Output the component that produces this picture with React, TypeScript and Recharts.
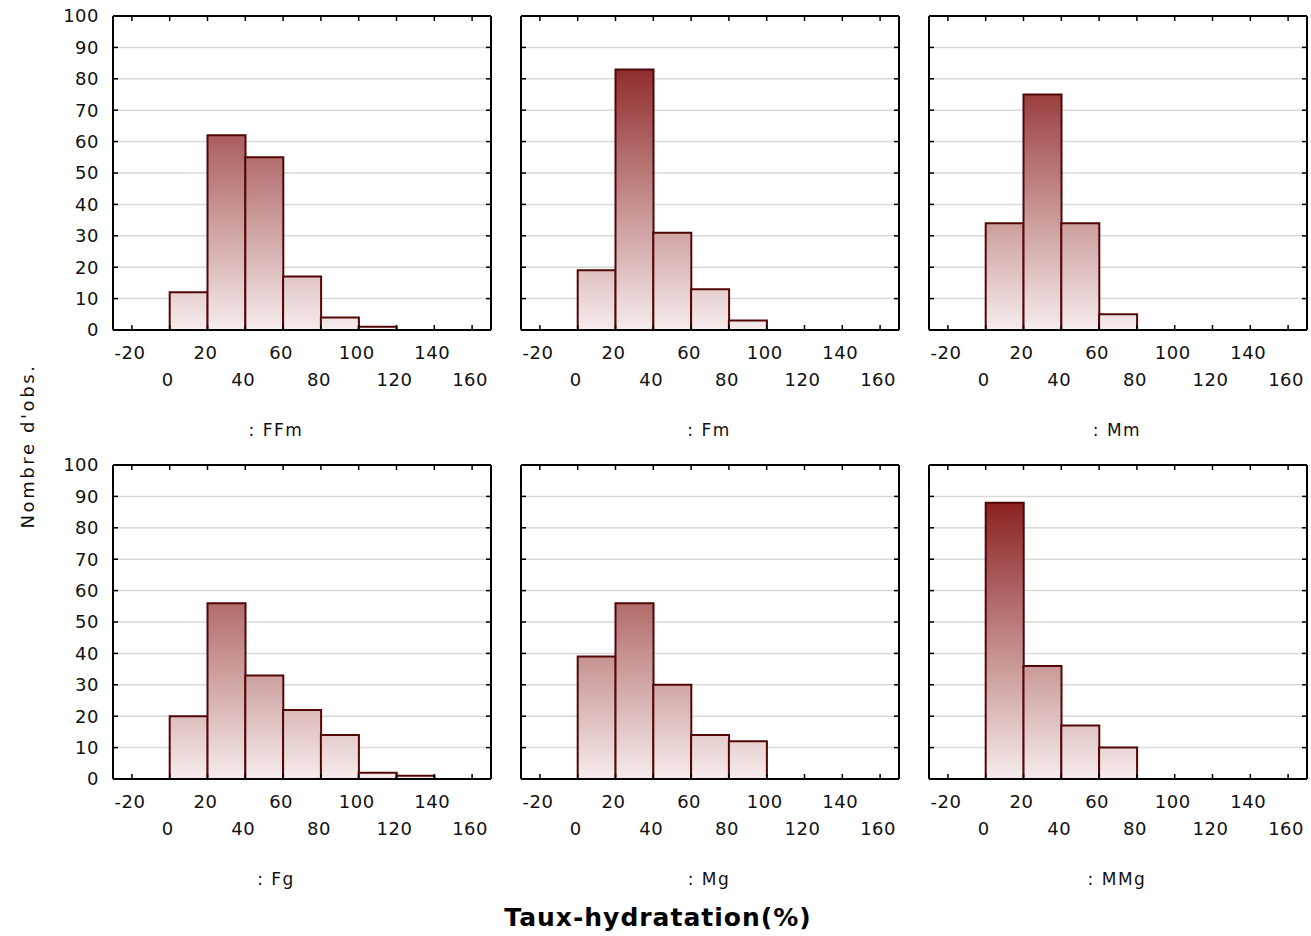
import { Bar, CartesianGrid, ComposedChart, XAxis, YAxis } from 'recharts'

// bin midpoints (bins are 20 wide: 0-20, 20-40, ...)
const binMids = [10, 30, 50, 70, 90, 110, 130]
const xTicks = [-20, 0, 20, 40, 60, 80, 100, 120, 140, 160]
const yTicks = [0, 10, 20, 30, 40, 50, 60, 70, 80, 90, 100]

// counts per bin for each group
const ffm = [12, 62, 55, 17, 4, 1, 0]
const fm = [19, 83, 31, 13, 3, 0, 0]
const mm = [34, 75, 34, 5, 0, 0, 0]
const fg = [20, 56, 33, 22, 14, 2, 1]
const mg = [39, 56, 30, 14, 12, 0, 0]
const mmg = [88, 36, 17, 10, 0, 0, 0]

const groupNames = ['FFm', 'Fm', 'Mm', 'Fg', 'Mg', 'MMg']
const groupCounts = [ffm, fm, mm, fg, mg, mmg]

const FONT = '"DejaVu Sans", sans-serif'

// chart geometry
const Y_AXIS_W = 50
const X_AXIS_H = 65
const EDGE = 1 // size given to the top and right frame axes
const M_TOP = 12
const M_RIGHT = 6
const PLOT_W = 378
const PLOT_H = 314
const CHART_W = Y_AXIS_W + PLOT_W + EDGE + M_RIGHT
const CHART_H = M_TOP + EDGE + PLOT_H + X_AXIS_H
const PL = Y_AXIS_W
const PR = Y_AXIS_W + PLOT_W
const PT = M_TOP + EDGE
const PB = PT + PLOT_H

const colLefts = [113, 521, 929]
const rowTops = [16, 465]
const labelCenters = [276, 709, 1117]

type TickProps = {
  x: number
  y: number
  index: number
  payload: { value: number }
}

function BottomTick({ x, index, payload }: TickProps) {
  const row = index % 2
  return (
    <g>
      <line x1={x} x2={x} y1={PB} y2={PB - 5} stroke="#000" strokeWidth={1.5} />
      <text
        x={x - 2}
        y={PB + 29 + row * 27}
        textAnchor="middle"
        fontFamily={FONT}
        fontSize={18}
        letterSpacing={0.5}
        fill="#111"
      >
        {payload.value}
      </text>
    </g>
  )
}

function TopTick({ x }: TickProps) {
  return <line x1={x} x2={x} y1={PT} y2={PT + 5} stroke="#000" strokeWidth={1.5} />
}

function RightTick({ y }: TickProps) {
  return <line x1={PR} x2={PR - 5} y1={y} y2={y} stroke="#000" strokeWidth={1.5} />
}

function LeftTick({ y, payload, showLabel }: TickProps & { showLabel: boolean }) {
  return (
    <g>
      <line x1={PL} x2={PL + 5} y1={y} y2={y} stroke="#000" strokeWidth={1.5} />
      {showLabel && (
        <text
          x={PL - 14}
          y={y}
          dy="0.36em"
          textAnchor="end"
          fontFamily={FONT}
          fontSize={18}
          letterSpacing={0.5}
          fill="#111"
        >
          {payload.value}
        </text>
      )}
    </g>
  )
}

function Histogram({ name, counts, showYLabels }: { name: string; counts: number[]; showYLabels: boolean }) {
  const data = binMids.map((mid, i) => ({ mid, n: counts[i] }))
  const gid = `fill-${name}`
  return (
    <ComposedChart
      width={CHART_W}
      height={CHART_H}
      data={data}
      margin={{ top: M_TOP, right: M_RIGHT, bottom: 0, left: 0 }}
      barCategoryGap={0}
      barGap={0}
    >
      <defs>
        <linearGradient id={gid} gradientUnits="userSpaceOnUse" x1="0" y1={PT} x2="0" y2={PB}>
          <stop offset="0" stopColor="#7c0606" />
          <stop offset="1" stopColor="#f6ecec" />
        </linearGradient>
      </defs>
      <CartesianGrid vertical={false} stroke="#d9d9d9" strokeWidth={1.5} />
      <XAxis
        dataKey="mid"
        type="number"
        domain={[-30, 170]}
        ticks={xTicks}
        interval={0}
        allowDataOverflow
        height={X_AXIS_H}
        tickLine={false}
        axisLine={{ stroke: '#000', strokeWidth: 2 }}
        tick={(p: TickProps) => <BottomTick {...p} />}
      />
      <XAxis
        xAxisId="top"
        orientation="top"
        dataKey="mid"
        type="number"
        domain={[-30, 170]}
        ticks={xTicks}
        interval={0}
        allowDataOverflow
        height={EDGE}
        tickLine={false}
        axisLine={{ stroke: '#000', strokeWidth: 2 }}
        tick={(p: TickProps) => <TopTick {...p} />}
      />
      <YAxis
        type="number"
        domain={[0, 100]}
        ticks={yTicks}
        interval={0}
        allowDataOverflow
        width={Y_AXIS_W}
        tickLine={false}
        axisLine={{ stroke: '#000', strokeWidth: 2 }}
        tick={(p: TickProps) => <LeftTick {...p} showLabel={showYLabels} />}
      />
      <YAxis
        yAxisId="right"
        orientation="right"
        type="number"
        domain={[0, 100]}
        ticks={yTicks}
        interval={0}
        allowDataOverflow
        width={EDGE}
        tickLine={false}
        axisLine={{ stroke: '#000', strokeWidth: 2 }}
        tick={(p: TickProps) => <RightTick {...p} />}
      />
      <Bar
        dataKey="n"
        fill={`url(#${gid})`}
        stroke="#520606"
        strokeWidth={2}
        isAnimationActive={false}
      />
    </ComposedChart>
  )
}

export default function App() {
  return (
    <div
      style={{
        position: 'absolute',
        left: 0,
        top: 0,
        width: 1311,
        height: 936,
        background: '#fff',
        overflow: 'hidden',
      }}
    >
      {groupNames.map((name, i) => {
        const row = Math.floor(i / 3)
        const col = i % 3
        return (
          <div key={name}>
            <div
              style={{
                position: 'absolute',
                left: colLefts[col] - PL,
                top: rowTops[row] - PT,
              }}
            >
              <Histogram name={name} counts={groupCounts[i]} showYLabels={col === 0} />
            </div>
            <div
              style={{
                position: 'absolute',
                left: labelCenters[col],
                top: rowTops[row] + PLOT_H + 100,
                transform: 'translate(-50%, -50%)',
                fontFamily: FONT,
                fontSize: 17,
                letterSpacing: 1.5,
                whiteSpace: 'nowrap',
                color: '#111',
              }}
            >
              : {name}
            </div>
          </div>
        )
      })}
      <div
        style={{
          position: 'absolute',
          left: 27,
          top: 446,
          transform: 'translate(-50%, -50%) rotate(-90deg)',
          fontFamily: FONT,
          fontSize: 18,
          letterSpacing: 2.6,
          whiteSpace: 'nowrap',
          color: '#111',
        }}
      >
        Nombre d'obs.
      </div>
      <div
        style={{
          position: 'absolute',
          left: 658,
          top: 917,
          transform: 'translate(-50%, -50%)',
          fontFamily: FONT,
          fontSize: 25,
          fontWeight: 'bold',
          letterSpacing: 1,
          whiteSpace: 'nowrap',
          color: '#000',
        }}
      >
        Taux-hydratation(%)
      </div>
    </div>
  )
}
